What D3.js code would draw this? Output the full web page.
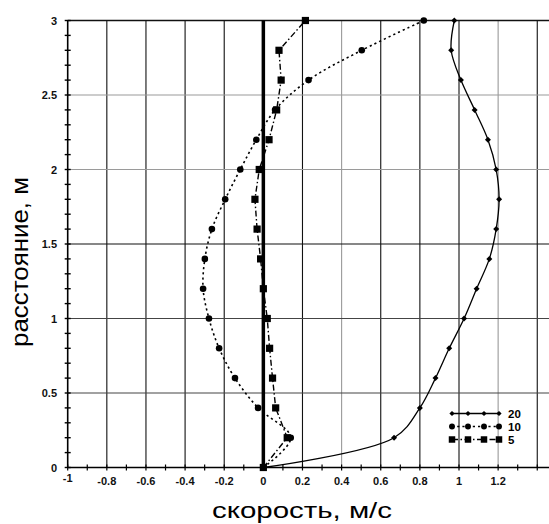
<!DOCTYPE html>
<html><head><meta charset="utf-8">
<script src="https://cdn.jsdelivr.net/npm/d3@7"></script>
<style>body{margin:0;background:#fff}svg{display:block}</style>
</head><body>
<svg id="c" width="549" height="524"></svg>
<script>
// ---- data ----
const heights = [0,0.2,0.4,0.6,0.8,1.0,1.2,1.4,1.6,1.8,2.0,2.2,2.4,2.6,2.8,3.0];
const v20 = [0,0.668,0.80,0.88,0.95,1.026,1.09,1.155,1.19,1.205,1.19,1.148,1.08,1.01,0.96,0.976];
const v10 = [0,0.14,-0.027,-0.145,-0.226,-0.278,-0.308,-0.299,-0.263,-0.195,-0.118,-0.036,0.06,0.231,0.503,0.82];
const v5  = [0,0.122,0.063,0.047,0.032,0.02,0.0,-0.014,-0.032,-0.043,-0.021,0.029,0.068,0.091,0.08,0.215];
const seriesNames = ["20","10","5"];
const xTickLabels = ["-1","-0.8","-0.6","-0.4","-0.2","0","0.2","0.4","0.6","0.8","1","1.2"];
const yTickLabels = ["0","0.5","1","1.5","2","2.5","3"];
const xGridValues = [-0.8,-0.6,-0.4,-0.2,0.2,0.4,0.6,0.8,1.0,1.2,1.4];
const yGridValues = [0.5,1.0,1.5,2.0,2.5,3.0];
const xLightGrid = [0.4,1.2];
const yLightGrid = [2.0,2.5];
const xTitle = "скорость, м/с";
const yTitle = "расстояние, м";

// ---- layout ----
const svg = d3.select("#c");
const font = "'Liberation Sans', Arial, sans-serif";
const x = d3.scaleLinear().domain([-1, 1.46]).range([67.7, 549]);
const y = d3.scaleLinear().domain([0, 3]).range([467.5, 20.5]);
const near = (a,b)=>Math.abs(a-b)<1e-6;

// grid
const g = svg.append("g");
g.selectAll("line.vg").data(xGridValues).join("line")
  .attr("x1", d=>x(d)).attr("x2", d=>x(d)).attr("y1", y(0)).attr("y2", y(3))
  .attr("stroke", d=>xLightGrid.some(v=>near(v,d)) ? "#9a9a9a" : "#111")
  .attr("stroke-width", 1.1);
g.selectAll("line.hg").data(yGridValues).join("line")
  .attr("x1", x(-1)).attr("x2", 549).attr("y1", d=>y(d)).attr("y2", d=>y(d))
  .attr("stroke", d=>yLightGrid.some(v=>near(v,d)) ? "#9a9a9a" : (near(d,3)||near(d,1.5) ? "#111" : "#444"))
  .attr("stroke-width", d=>near(d,3)?1.5:1.1);

// axes lines
svg.append("line").attr("x1", x(-1)).attr("x2", 549).attr("y1", y(0)).attr("y2", y(0))
  .attr("stroke","#000").attr("stroke-width",1.6);
svg.append("line").attr("x1", x(-1)).attr("x2", x(-1)).attr("y1", y(0)).attr("y2", y(3))
  .attr("stroke","#000").attr("stroke-width",1.6);

// minor ticks
const xt = d3.range(-10, 15).map(i=>i/10);
svg.append("g").selectAll("line").data(xt).join("line")
  .attr("x1", d=>x(d)).attr("x2", d=>x(d)).attr("y1", y(0)-3).attr("y2", y(0)+3)
  .attr("stroke","#000").attr("stroke-width",1.2);
const yt = d3.range(0, 31).map(i=>i/10);
svg.append("g").selectAll("line").data(yt).join("line")
  .attr("x1", x(-1)-3).attr("x2", x(-1)+3).attr("y1", d=>y(d)).attr("y2", d=>y(d))
  .attr("stroke","#000").attr("stroke-width",1.4);

// zero line
svg.append("line").attr("x1", x(0)).attr("x2", x(0)).attr("y1", y(0)).attr("y2", y(3))
  .attr("stroke","#000").attr("stroke-width",3.5);

// tick labels
svg.append("g").selectAll("text").data(xTickLabels).join("text")
  .attr("x", d=>x(+d)).attr("y", d=> d==="-1" ? 482 : 485)
  .attr("text-anchor","middle").attr("font-family",font).attr("font-size",11).attr("font-weight","bold")
  .attr("fill","#111").text(d=>d);
svg.append("g").selectAll("text").data(yTickLabels).join("text")
  .attr("x", 57).attr("y", d=>y(+d)+4)
  .attr("text-anchor","end").attr("font-family",font).attr("font-size",11).attr("font-weight","bold")
  .attr("fill","#111").text(d=>d);

// titles
svg.append("text").attr("x", 302).attr("y", 518).attr("text-anchor","middle")
  .attr("font-family",font).attr("font-size",22)
  .attr("textLength",180).attr("lengthAdjust","spacingAndGlyphs").text(xTitle);
svg.append("text").attr("transform","translate(28,262) rotate(-90)").attr("text-anchor","middle")
  .attr("font-family",font).attr("font-size",24)
  .attr("textLength",170).attr("lengthAdjust","spacingAndGlyphs").text(yTitle);

// series
const styles = {
  "20": {data: v20, dash: null, width: 1.3, curve: d3.curveCatmullRom.alpha(0.5), marker: "diamond", size: 3},
  "10": {data: v10, dash: "2.2,3", width: 1.6, curve: d3.curveCatmullRom.alpha(0.5), marker: "circle", size: 3.3},
  "5":  {data: v5,  dash: "6,2.5,1.5,2.5", width: 1.4, curve: d3.curveLinear, marker: "square", size: 3.6}
};
function drawMarker(sel, type, s){
  if(type==="circle") return sel.append("circle").attr("r", s).attr("fill","#000");
  if(type==="square") return sel.append("rect").attr("x",-s).attr("y",-s).attr("width",2*s).attr("height",2*s).attr("fill","#000");
  return sel.append("path").attr("d",`M0,${-s}L${s},0L0,${s}L${-s},0Z`).attr("fill","#000");
}
["5","10","20"].forEach(name=>{
  const st = styles[name];
  const pts = heights.map((h,i)=>[st.data[i], h]);
  const line = d3.line().x(d=>x(d[0])).y(d=>y(d[1])).curve(st.curve);
  svg.append("path").attr("d", line(pts)).attr("fill","none").attr("stroke","#000")
    .attr("stroke-width", st.width).attr("stroke-dasharray", st.dash);
  pts.forEach(p=>{
    const m = svg.append("g").attr("transform",`translate(${x(p[0])},${y(p[1])})`);
    drawMarker(m, st.marker, st.size);
  });
});

// legend
const legY = [413.5, 426.5, 439.5];
seriesNames.forEach((name,i)=>{
  const st = styles[name];
  const lg = svg.append("g");
  lg.append("line").attr("x1",452).attr("x2",499).attr("y1",legY[i]).attr("y2",legY[i])
    .attr("stroke","#000").attr("stroke-width",1.4).attr("stroke-dasharray", st.dash);
  [452,468,484,499].forEach(px=>{
    const m = lg.append("g").attr("transform",`translate(${px},${legY[i]})`);
    drawMarker(m, st.marker, name==="20"?2.6:st.size*0.9);
  });
  lg.append("text").attr("x",508).attr("y",legY[i]+4.3).attr("font-family",font)
    .attr("font-size",11.5).attr("font-weight","bold").text(name);
});
</script>
</body></html>
